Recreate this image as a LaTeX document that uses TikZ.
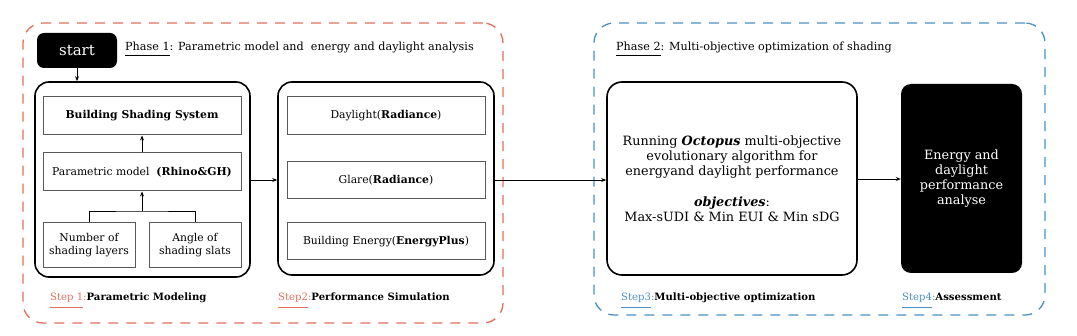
\documentclass[tikz,border=0pt]{standalone}
\usepackage{fontspec}
\setmainfont{DejaVu Serif}
\usetikzlibrary{arrows.meta, positioning}

\definecolor{stepred}{RGB}{224,112,92}
\definecolor{stepblue}{RGB}{74,144,196}
% underline with a chosen drop below the baseline
\newcommand{\ulabel}[2]{\setbox0\hbox{#2}\rlap{\rule[-#1]{\wd0}{0.7pt}}\box0}

\begin{document}
\begin{tikzpicture}[
    x=1pt, y=-1pt,
    % node styles
    phasebox/.style={draw, dash pattern=on 10pt off 8pt, line width=1.3pt, rounded corners=20pt},
    outer/.style={rectangle, draw=black, line width=1.6pt, rounded corners=14pt, inner sep=0pt},
    inner/.style={rectangle, draw=black!65, line width=1pt, inner sep=0pt, align=center, font=\fontsize{10.8}{13}\selectfont},
    darkbox/.style={rectangle, fill=black, text=white, inner sep=0pt, align=center},
    title/.style={anchor=west, inner sep=0pt, font=\fontsize{11.2}{13}\selectfont},
    steplabel/.style={anchor=west, inner sep=0pt, font=\fontsize{10.1}{12}\selectfont},
    arrow/.style={-{Stealth[length=5pt,width=4pt]}, line width=0.8pt},
    link/.style={line width=0.8pt}
]
    \useasboundingbox (0,0) rectangle (1077,336);

    % ==================== PHASE CONTAINERS ====================
    \node [phasebox, draw=stepred, minimum width=480pt, minimum height=300pt] (phase1) at (263,173) {};
    \node [phasebox, draw=stepblue, minimum width=451pt, minimum height=292pt] (phase2) at (819.5,169) {};

    \node [darkbox, rounded corners=7pt, minimum width=80pt, minimum height=35pt, font=\fontsize{15}{17}\selectfont] (start) at (77,50.5) {start};
    \node [title] (title1) at (125,49) {\ulabel{5.5pt}{Phase 1}: Parametric model and\ \ energy and daylight analysis};
    \node [title] (title2) at (616,49) {\ulabel{5.5pt}{Phase 2}: Multi-objective optimization of shading};

    % ==================== STEP 1 ====================
    \node [outer, minimum width=215pt, minimum height=195pt] (shading) at (142.5,179.5) {};
    \node [inner, minimum width=198pt, minimum height=38pt] (bss) at (142,116) {\textbf{Building Shading System}};
    \node [inner, minimum width=198pt, minimum height=38pt] (pmodel) at (142,172) {Parametric model\ \ \textbf{(Rhino\&GH)}};
    \node [inner, minimum width=92pt, minimum height=45pt] (layers) at (89,245.5) {Number of\\shading layers};
    \node [inner, minimum width=92pt, minimum height=45pt] (slats) at (195,245.5) {Angle of\\shading slats};
    \coordinate (fork) at (142,211);

    \draw [arrow] (start.south) -- (start.south |- shading.north);
    \draw [arrow] (pmodel) -- (bss);
    \draw [link] (layers.north) |- (fork) -| (slats.north);
    \draw [arrow] (fork) -- (pmodel);

    % ==================== STEP 2 ====================
    \node [outer, minimum width=216pt, minimum height=193pt] (simulation) at (386,178.5) {};
    \node [inner, minimum width=198pt, minimum height=38pt] (daylight) at (386,116) {Daylight(\textbf{Radiance})};
    \node [inner, minimum width=198pt, minimum height=37pt] (glare) at (386,180.5) {Glare(\textbf{Radiance})};
    \node [inner, minimum width=198pt, minimum height=37pt] (energy) at (386,241.5) {Building Energy(\textbf{EnergyPlus})};

    % ==================== STEP 3 AND 4 ====================
    \node [outer, rounded corners=15pt, minimum width=250pt, minimum height=193pt, align=center, font=\fontsize{12.8}{15}\selectfont] (octopus) at (732,178.5)
        {Running \textbf{\textit{Octopus}} multi-objective\\evolutionary algorithm for\\energyand daylight performance\\[16pt]\textbf{\textit{objectives}}:\\Max-sUDI \& Min EUI \& Min sDG};
    \node [darkbox, rounded corners=10pt, minimum width=121pt, minimum height=189pt, font=\fontsize{12.8}{15}\selectfont] (assess) at (961.5,178.5)
        {Energy and\\daylight\\performance\\analyse};

    % connections between steps
    \draw [arrow] (shading.east |- 0,180) -- (simulation.west |- 0,180);
    \draw [arrow] (simulation.east |- 0,180) -- (octopus.west |- 0,180);
    \draw [arrow] (octopus.east |- 0,179) -- (assess.west |- 0,179);

    % ==================== STEP LABELS ====================
    \node [steplabel] (step1) at (50,300) {\textcolor{stepred}{\ulabel{7pt}{Step 1}:}\textbf{Parametric Modeling}};
    \node [steplabel] (step2) at (278,300) {\textcolor{stepred}{\ulabel{7pt}{Step2}:}\textbf{Performance Simulation}};
    \node [steplabel] (step3) at (621,300) {\textcolor{stepblue}{\ulabel{7pt}{Step3}:}\textbf{Multi-objective optimization}};
    \node [steplabel] (step4) at (902,300) {\textcolor{stepblue}{\ulabel{7pt}{Step4}:}\textbf{Assessment}};

\end{tikzpicture}
\end{document}
